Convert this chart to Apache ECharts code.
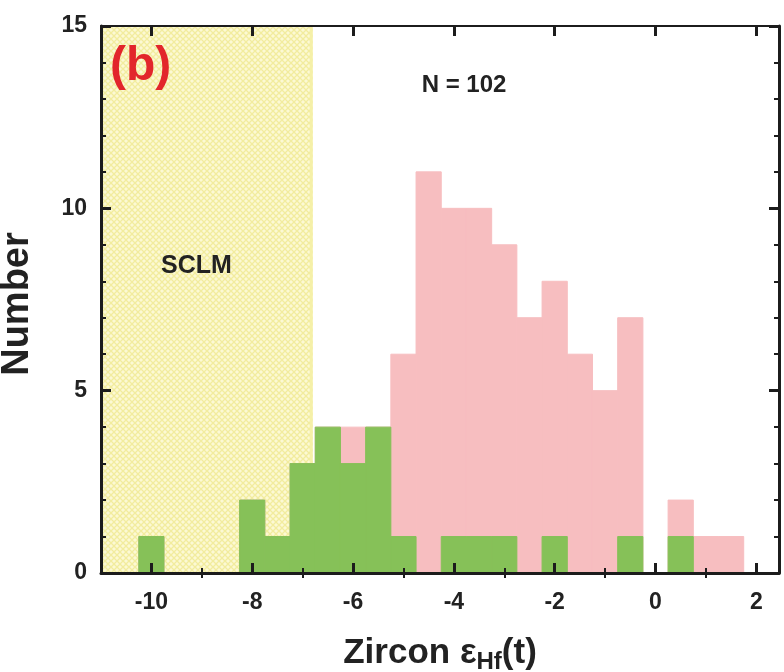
<!DOCTYPE html>
<html>
<head>
<meta charset="utf-8">
<script src="https://cdn.jsdelivr.net/npm/echarts@6/dist/echarts.min.js"></script>
<style>
html,body{margin:0;padding:0;background:#fff;}
#main{width:784px;height:672px;}
</style>
</head>
<body>
<div id="main"></div>
<script>
// ---- data ----
const binCenters = [-10,-9.5,-9,-8.5,-8,-7.5,-7,-6.5,-6,-5.5,-5,-4.5,-4,-3.5,-3,-2.5,-2,-1.5,-1,-0.5,0,0.5,1,1.5];
const totalCounts = [1,0,0,0,2,1,3,4,4,4,6,11,10,10,9,7,8,6,5,7,0,2,1,1];
const greenCounts = [1,0,0,0,2,1,3,4,3,4,1,0,1,1,1,0,1,0,0,1,0,1,0,0];
const binWidth = 0.5;
const sclmRange = [-11, -6.8];
const xMajorTicks = [-10,-8,-6,-4,-2,0,2];
const xMinorTicks = [-9,-7,-5,-3,-1,1];

const PINK = '#F7BEC0';
const GREEN = '#86C158';
const AXIS = '#1c1c1c';
const FONT = '"Liberation Sans", Arial, sans-serif';

// hatch pattern for SCLM field
const pc = document.createElement('canvas');
pc.width = 6; pc.height = 6;
const g = pc.getContext('2d');
g.fillStyle = '#FCF9D4'; g.fillRect(0,0,6,6);
g.strokeStyle = '#F2EC9E'; g.lineWidth = 1.3;
g.beginPath(); g.moveTo(0,0); g.lineTo(6,6); g.moveTo(6,0); g.lineTo(0,6); g.stroke();

function rectItem(color) {
  return function (params, api) {
    const x = api.value(0), y = api.value(1);
    if (!y) return null;
    const p0 = api.coord([x - binWidth / 2, y]);
    const p1 = api.coord([x + binWidth / 2, 0]);
    return { type: 'rect', shape: { x: p0[0], y: p0[1], width: p1[0] - p0[0], height: p1[1] - p0[1] },
             style: { fill: color, stroke: color, lineWidth: 1 } };
  };
}

const chart = echarts.init(document.getElementById('main'), null, {renderer: 'canvas'});
const xMin = -11, xMax = 2.45;
const baseX = { type: 'value', min: xMin, max: xMax, splitLine: {show: false}, z: 10 };
const option = {
  animation: false,
  grid: {left: 101, right: 5, top: 26, bottom: 99, containLabel: false},
  xAxis: [
    Object.assign({}, baseX, {
      position: 'bottom',
      axisLine: {show: true, onZero: false, lineStyle: {color: AXIS, width: 3}},
      axisTick: {show: true, inside: true, length: 10, lineStyle: {color: AXIS, width: 3}, customValues: xMajorTicks},
      axisLabel: {show: true, customValues: xMajorTicks, margin: 18, fontSize: 23, fontWeight: 'bold', color: '#222', fontFamily: FONT}
    }),
    Object.assign({}, baseX, {
      position: 'bottom',
      axisLine: {show: false},
      axisTick: {show: true, inside: true, length: 5, lineStyle: {color: AXIS, width: 2}, customValues: xMinorTicks},
      axisLabel: {show: false}
    }),
    Object.assign({}, baseX, {
      position: 'top',
      axisLine: {show: true, onZero: false, lineStyle: {color: AXIS, width: 2}},
      axisTick: {show: true, inside: true, length: 10, lineStyle: {color: AXIS, width: 3}, customValues: xMajorTicks},
      axisLabel: {show: false}
    }),
    Object.assign({}, baseX, {
      position: 'top',
      axisLine: {show: false},
      axisTick: {show: true, inside: true, length: 5, lineStyle: {color: AXIS, width: 2}, customValues: xMinorTicks},
      axisLabel: {show: false}
    })
  ],
  yAxis: [
    {
      type: 'value', min: 0, max: 15, interval: 5, position: 'left', z: 10,
      splitLine: {show: false},
      axisLine: {show: true, onZero: false, lineStyle: {color: AXIS, width: 3}},
      axisTick: {show: true, inside: true, length: 10, lineStyle: {color: AXIS, width: 3}},
      minorTick: {show: true, splitNumber: 5, length: 5, lineStyle: {color: AXIS, width: 2}},
      axisLabel: {margin: 14, fontSize: 23, fontWeight: 'bold', color: '#222', fontFamily: FONT}
    },
    {
      type: 'value', min: 0, max: 15, interval: 5, position: 'right', z: 10,
      splitLine: {show: false},
      axisLine: {show: true, onZero: false, lineStyle: {color: AXIS, width: 3}},
      axisTick: {show: true, inside: true, length: 10, lineStyle: {color: AXIS, width: 3}},
      minorTick: {show: true, splitNumber: 5, length: 5, lineStyle: {color: AXIS, width: 2}},
      axisLabel: {show: false}
    }
  ],
  series: [
    {
      type: 'custom', name: 'SCLM', xAxisIndex: 0, yAxisIndex: 0, z: 1,
      data: [[sclmRange[0], sclmRange[1]]],
      renderItem: function (params, api) {
        const p0 = api.coord([api.value(0), 15]);
        const p1 = api.coord([api.value(1), 0]);
        return {
          type: 'group', children: [
            {type: 'rect', shape: {x: p0[0], y: p0[1], width: p1[0] - p0[0], height: p1[1] - p0[1]},
             style: {fill: {image: pc, repeat: 'repeat'}}},
            {type: 'rect', shape: {x: p1[0] - 3, y: p0[1], width: 3, height: p1[1] - p0[1]},
             style: {fill: '#F5F0A8'}}
          ]
        };
      }
    },
    {
      type: 'custom', name: 'All', xAxisIndex: 0, yAxisIndex: 0, z: 2,
      data: binCenters.map((c, i) => [c, totalCounts[i]]),
      renderItem: rectItem(PINK)
    },
    {
      type: 'custom', name: 'Green', xAxisIndex: 0, yAxisIndex: 0, z: 3,
      data: binCenters.map((c, i) => [c, greenCounts[i]]),
      renderItem: rectItem(GREEN)
    }
  ],
  graphic: [
    {type: 'text', left: 110, top: 43, z: 20,
     style: {text: '(b)', font: 'bold 48px ' + FONT, fill: '#E2262B'}},
    {type: 'text', x: 464, y: 85, z: 20,
     style: {text: 'N = 102', font: 'bold 24px ' + FONT, fill: '#222', align: 'center', verticalAlign: 'middle'}},
    {type: 'text', x: 161, y: 266, z: 20,
     style: {text: 'SCLM', font: 'bold 25px ' + FONT, fill: '#222', align: 'left', verticalAlign: 'middle'}},
    {type: 'text', x: 18, y: 304, rotation: Math.PI / 2, z: 20,
     style: {text: 'Number', font: 'bold 38px ' + FONT, fill: '#222', align: 'center', verticalAlign: 'middle'}},
    {type: 'text', x: 440, y: 653, z: 20,
     style: {
       text: '{a|Zircon ε}{s|Hf}{a|(t)}', align: 'center', verticalAlign: 'middle',
       rich: {
         a: {font: 'bold 35px ' + FONT, fill: '#222', lineHeight: 42, verticalAlign: 'middle'},
         s: {font: 'bold 24px ' + FONT, fill: '#222', lineHeight: 42, verticalAlign: 'bottom', padding: [16, 0, 0, 0]}
       }
     }}
  ]
};
chart.setOption(option);
</script>
</body>
</html>
